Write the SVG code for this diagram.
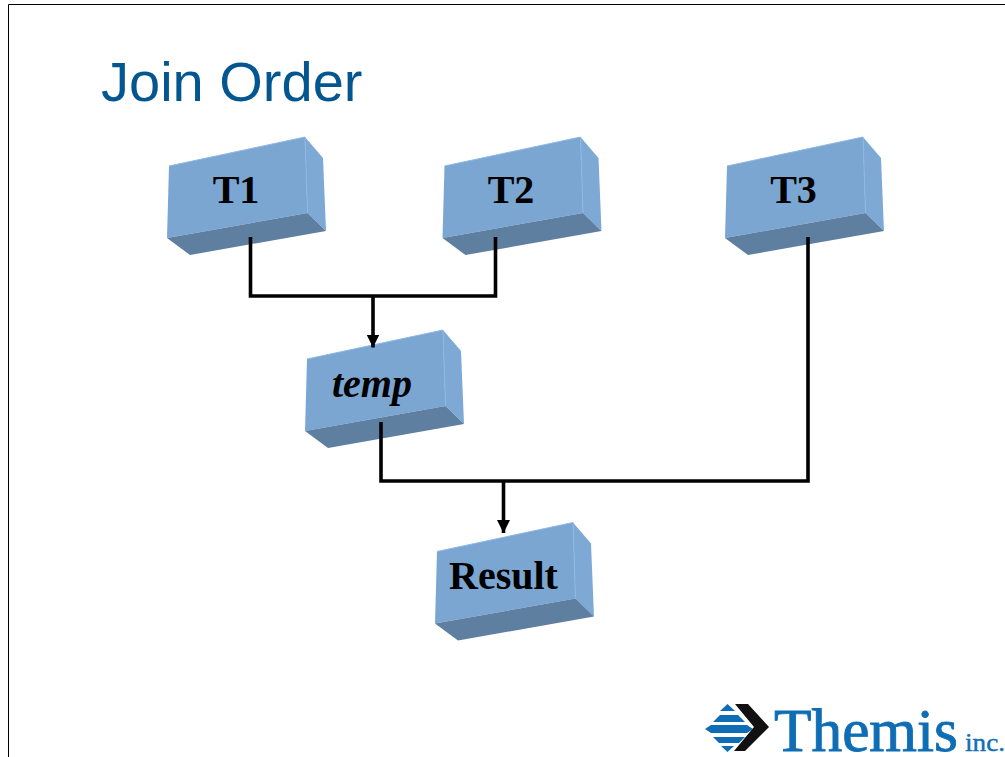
<svg xmlns="http://www.w3.org/2000/svg" width="1005" height="757" viewBox="0 0 1005 757">
<style>
.front{fill:#7ba6d2}
.right{fill:#7ea9d5}
.bottom{fill:#5f7fa1}
.edge{fill:none;stroke:#8db8e6;stroke-width:1}
.wire{fill:none;stroke:#000;stroke-width:3.6;stroke-linejoin:miter}
.label{font-family:"Liberation Serif",serif;font-size:40px;font-weight:bold;fill:#000;text-anchor:middle}
.logo{font-family:"Liberation Serif",serif;fill:#0f6db5;stroke:#0f6db5}
.mark{fill:#0f6db5}
</style>
<defs>
<g id="box">
<polygon class="front" points="169,166 305,137 307.5,213 167,238"/>
<polygon class="right" points="305,137 323,158 326,231 307.5,213"/>
<polygon class="bottom" points="167,238 307.5,213 326,231 190,255"/>
<path class="edge" d="M169,166 L305,137 L307.5,213"/>
</g>
<marker id="arrow" markerUnits="userSpaceOnUse" markerWidth="14" markerHeight="14" refX="13" refY="6.500" orient="auto">
<path d="M0,0 L13,6.500 L0,13 Z" fill="#000"/>
</marker>
</defs>
<rect width="1005" height="757" fill="#fff"/>
<path d="M8.500,757 V4.500 H1005" fill="none" stroke="#000" stroke-width="1"/>
<text x="101" y="101" font-family="Liberation Sans,sans-serif" font-size="56" fill="#03568f">Join Order</text>
<g id="node-t1"><use href="#box"/><text class="label" x="236" y="203">T1</text></g>
<g id="node-t2"><use href="#box" x="275.500"/><text class="label" x="511" y="203">T2</text></g>
<g id="node-t3"><use href="#box" x="558"/><text class="label" x="793.500" y="203">T3</text></g>
<g id="node-temp"><use href="#box" x="138" y="193"/><text class="label" x="372" y="397" font-style="italic">temp</text></g>
<g id="node-result"><use href="#box" x="268" y="385.500"/><text class="label" x="503.500" y="589">Result</text></g>
<g id="connectors">
<path class="wire" d="M250.500,237 V296 H495.500 V237"/>
<path class="wire" d="M373,296 V347.500" marker-end="url(#arrow)"/>
<path class="wire" d="M381,422 V481 H808 V237"/>
<path class="wire" d="M503.500,481 V533" marker-end="url(#arrow)"/>
</g>
<g id="logo">
<polygon class="mark" points="727.500,704 735,711 720,711"/>
<polygon class="mark" points="720,715 738,715 745,722 713,722"/>
<polygon class="mark" points="711,725 747,725 753,729 747,733 711,733 705,729"/>
<polygon class="mark" points="713,737 745,737 739,743 719,743"/>
<polygon class="mark" points="721,746 734,746 727.500,752"/>
<polygon points="735,704 748,704 769,727 745,751 734,751 754,727" fill="#111"/>
<text class="logo" x="774" y="751" font-size="61" stroke-width="0.9" textLength="184" lengthAdjust="spacingAndGlyphs">Themis</text>
<text class="logo" x="965" y="751" font-size="26" stroke-width="0.4" textLength="40" lengthAdjust="spacingAndGlyphs">inc.</text>
</g>
</svg>
